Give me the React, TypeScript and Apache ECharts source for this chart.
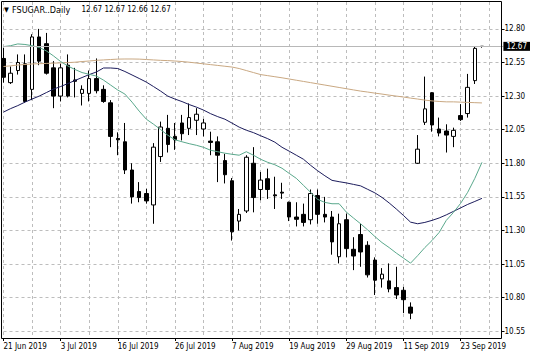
import { useEffect, useRef } from "react";
import * as echarts from "echarts";

const symbolName = "FSUGAR..Daily";

const dates = [
  "21 Jun 2019", "24 Jun 2019", "25 Jun 2019", "26 Jun 2019", "27 Jun 2019", "28 Jun 2019",
  "1 Jul 2019", "2 Jul 2019", "3 Jul 2019", "5 Jul 2019", "8 Jul 2019", "9 Jul 2019",
  "10 Jul 2019", "11 Jul 2019", "12 Jul 2019", "15 Jul 2019", "16 Jul 2019", "17 Jul 2019",
  "18 Jul 2019", "19 Jul 2019", "22 Jul 2019", "23 Jul 2019", "24 Jul 2019", "25 Jul 2019",
  "26 Jul 2019", "29 Jul 2019", "30 Jul 2019", "31 Jul 2019", "1 Aug 2019", "2 Aug 2019",
  "5 Aug 2019", "6 Aug 2019", "7 Aug 2019", "8 Aug 2019", "9 Aug 2019", "12 Aug 2019",
  "13 Aug 2019", "14 Aug 2019", "15 Aug 2019", "16 Aug 2019", "19 Aug 2019", "20 Aug 2019",
  "21 Aug 2019", "22 Aug 2019", "23 Aug 2019", "26 Aug 2019", "27 Aug 2019", "28 Aug 2019",
  "29 Aug 2019", "30 Aug 2019", "3 Sep 2019", "4 Sep 2019", "5 Sep 2019", "6 Sep 2019",
  "9 Sep 2019", "10 Sep 2019", "11 Sep 2019", "12 Sep 2019", "13 Sep 2019", "16 Sep 2019",
  "17 Sep 2019", "18 Sep 2019", "19 Sep 2019", "20 Sep 2019", "23 Sep 2019", "24 Sep 2019",
  "25 Sep 2019", "26 Sep 2019",
];
// empty future slots on the right side of the chart (chart shift)
const futureSlots = ["27 Sep 2019", "30 Sep 2019", "1 Oct 2019"];

const opens = [
  12.58, 12.40, 12.49, 12.54, 12.35, 12.74, 12.69, 12.51, 12.30, 12.53,
  12.42, 12.32, 12.32, 12.43, 12.35, 12.25, 11.985, 11.96, 11.75, 11.59,
  11.575, 11.49, 11.85, 12.06, 12.00, 12.10, 12.06, 12.12, 12.055, 11.965,
  11.96, 11.82, 11.67, 11.37, 11.445, 11.80, 11.605, 11.685, 11.565, 11.585,
  11.51, 11.40, 11.42, 11.38, 11.56, 11.42, 11.40, 11.105, 11.38, 11.16,
  11.27, 11.19, 11.08, 10.94, 10.925, 10.875, 10.855, 10.73, 11.80, 12.105,
  12.325, 12.055, 12.04, 12.00, 12.155, 12.17, 12.415, 12.67,
];
const highs = [
  12.66, 12.52, 12.61, 12.61, 12.76, 12.80, 12.77, 12.56, 12.54, 12.61,
  12.51, 12.38, 12.49, 12.58, 12.38, 12.27, 12.03, 12.10, 11.80, 11.66,
  11.61, 11.95, 12.11, 12.16, 12.10, 12.16, 12.245, 12.21, 12.13, 12.035,
  12.00, 11.87, 11.69, 11.46, 11.86, 11.92, 11.735, 11.76, 11.70, 11.655,
  11.515, 11.51, 11.50, 11.605, 11.605, 11.55, 11.445, 11.425, 11.425, 11.25,
  11.35, 11.22, 11.10, 11.02, 11.055, 11.03, 10.88, 10.765, 12.01, 12.445,
  12.33, 12.14, 12.09, 12.065, 12.24, 12.465, 12.67, 12.67,
];
const lows = [
  12.40, 12.39, 12.46, 12.25, 12.27, 12.53, 12.46, 12.21, 12.26, 12.29,
  12.29, 12.23, 12.26, 12.32, 12.25, 11.92, 11.86, 11.72, 11.50, 11.51,
  11.50, 11.35, 11.81, 11.88, 11.90, 11.97, 12.01, 12.01, 12.00, 11.86,
  11.66, 11.65, 11.225, 11.30, 11.43, 11.435, 11.525, 11.535, 11.46, 11.535,
  11.37, 11.33, 11.33, 11.345, 11.35, 11.36, 11.12, 11.055, 11.10, 11.005,
  11.03, 10.95, 10.82, 10.875, 10.84, 10.79, 10.685, 10.64, 11.795, 12.085,
  12.035, 12.00, 11.88, 11.92, 12.115, 12.14, 12.39, 12.66,
];
const closes = [
  12.44, 12.47, 12.55, 12.26, 12.74, 12.56, 12.47, 12.30, 12.51, 12.30,
  12.41, 12.35, 12.43, 12.34, 12.26, 12.00, 11.975, 11.75, 11.55, 11.545,
  11.52, 11.92, 12.07, 11.94, 11.975, 12.02, 12.14, 12.165, 12.10, 11.955,
  11.86, 11.715, 11.29, 11.42, 11.845, 11.545, 11.675, 11.605, 11.558, 11.578,
  11.40, 11.383, 11.36, 11.575, 11.42, 11.40, 11.215, 11.35, 11.165, 11.11,
  11.14, 10.97, 10.93, 10.975, 10.865, 10.82, 10.785, 10.685, 11.905, 12.205,
  12.085, 12.025, 12.01, 12.045, 12.125, 12.365, 12.655, 12.67,
];

// moving averages
const maFast = [
  12.668, 12.675, 12.688, 12.684, 12.675, 12.662, 12.636, 12.599, 12.557, 12.524,
  12.498, 12.475, 12.462, 12.449, 12.419, 12.382, 12.345, 12.315, 12.255, 12.188,
  12.128, 12.091, 12.051, 12.009, 11.975, 11.96, 11.946, 11.934, 11.919, 11.897,
  11.886, 11.875, 11.867, 11.86, 11.886, 11.86, 11.83, 11.807, 11.789, 11.763,
  11.725, 11.688, 11.636, 11.584, 11.531, 11.509, 11.499, 11.499, 11.437, 11.393,
  11.35, 11.304, 11.255, 11.21, 11.173, 11.132, 11.095, 11.057, 11.113, 11.173,
  11.225, 11.285, 11.375, 11.434, 11.501, 11.584, 11.688, 11.807,
];
const maMid = [
  12.181, 12.207, 12.229, 12.255, 12.278, 12.30, 12.326, 12.352, 12.371, 12.393,
  12.416, 12.438, 12.46, 12.479, 12.509, 12.509, 12.505, 12.483, 12.457, 12.431,
  12.404, 12.371, 12.337, 12.30, 12.278, 12.259, 12.237, 12.218, 12.196, 12.169,
  12.147, 12.128, 12.099, 12.069, 12.046, 12.028, 12.005, 11.983, 11.957, 11.919,
  11.89, 11.86, 11.83, 11.785, 11.744, 11.707, 11.673, 11.663, 11.654, 11.643,
  11.632, 11.606, 11.58, 11.546, 11.505, 11.46, 11.412, 11.362, 11.35, 11.36,
  11.375, 11.393, 11.416, 11.442, 11.468, 11.494, 11.516, 11.539,
];
const maSlow = [
  12.520, 12.525, 12.531, 12.535, 12.539, 12.541, 12.543, 12.545, 12.547, 12.549,
  12.552, 12.557, 12.561, 12.566, 12.569, 12.572, 12.575, 12.576, 12.576, 12.575,
  12.572, 12.569, 12.566, 12.564, 12.561, 12.557, 12.552, 12.546, 12.540, 12.534,
  12.528, 12.522, 12.516, 12.505, 12.49, 12.475, 12.46, 12.452, 12.444, 12.436,
  12.427, 12.418, 12.409, 12.40, 12.391, 12.382, 12.373, 12.364, 12.355, 12.346,
  12.337, 12.33, 12.322, 12.315, 12.307, 12.30, 12.293, 12.285, 12.278, 12.27,
  12.264, 12.26, 12.257, 12.257, 12.255, 12.253, 12.251, 12.249,
];

const yTickValues = [10.55, 10.8, 11.05, 11.3, 11.55, 11.8, 12.05, 12.3, 12.55, 12.8];
const yMin = 10.5;
const yMax = 13.0;

const FONT = "'DejaVu Sans Condensed', 'DejaVu Sans', sans-serif";

export default function App() {
  const ref = useRef<HTMLDivElement>(null);

  useEffect(() => {
    if (!ref.current) return;
    const chart = echarts.init(ref.current, null, { renderer: "svg" });
    const cats = [...dates, ...futureSlots];
    const last = dates.length - 1;
    const lastClose = closes[last];
    const header = [opens[last], highs[last], lows[last], closes[last]]
      .map((v) => v.toFixed(2))
      .join(" ");

    const option: any = {
      animation: false,
      backgroundColor: "#ffffff",
      grid: { left: 3.5, right: 32.6, top: 2, bottom: 19, containLabel: false },
      xAxis: {
        type: "category",
        data: cats,
        boundaryGap: false,
        axisLine: { show: false },
        axisTick: { show: true, interval: 7, length: 3, lineStyle: { color: "#000" } },
        axisLabel: {
          interval: 7,
          align: "left",
          margin: 4,
          fontSize: 8,
          color: "#000",
          fontFamily: FONT,
        },
        splitLine: {
          show: true,
          interval: 3,
          lineStyle: { color: "#bdbdbd", width: 1, type: [3, 3] },
        },
      },
      yAxis: {
        type: "value",
        position: "right",
        min: yMin,
        max: yMax,
        offset: -1.9,
        axisLine: { show: false },
        axisTick: {
          show: true,
          length: 3,
          customValues: yTickValues,
          lineStyle: { color: "#000" },
        },
        axisLabel: {
          customValues: yTickValues,
          formatter: (v: number) => v.toFixed(2),
          margin: 3,
          fontSize: 8,
          color: "#000",
          fontFamily: FONT,
        },
        splitLine: {
          show: true,
          lineStyle: { color: "#bdbdbd", width: 1, type: [3, 3] },
        },
      },
      series: [
        {
          type: "candlestick",
          data: dates.map((_, i) => [opens[i], closes[i], lows[i], highs[i]]),
          barWidth: 4,
          itemStyle: {
            color: "#ffffff",
            color0: "#000000",
            borderColor: "#000000",
            borderColor0: "#000000",
            borderWidth: 1,
          },
          markLine: {
            silent: true,
            symbol: ["none", "none"],
            data: [{ yAxis: lastClose }],
            lineStyle: { color: "#b8b8b8", width: 1, type: "solid" },
            label: {
              show: true,
              position: "end",
              distance: 0,
              formatter: lastClose.toFixed(2),
              backgroundColor: "#000",
              color: "#fff",
              padding: [1, 3, 0, 3],
              fontSize: 8,
              fontFamily: FONT,
            },
          },
          z: 2,
        },
        {
          type: "line",
          data: maSlow,
          symbol: "none",
          lineStyle: { color: "#c9a882", width: 1 },
          z: 3,
        },
        {
          type: "line",
          data: maMid,
          symbol: "none",
          lineStyle: { color: "#1c1c5c", width: 1 },
          z: 3,
        },
        {
          type: "line",
          data: maFast,
          symbol: "none",
          lineStyle: { color: "#5aa88c", width: 1 },
          z: 3,
        },
      ],
      graphic: [
        {
          type: "rect",
          silent: true,
          z: 50,
          shape: { x: 1.5, y: 1.5, width: 500, height: 337 },
          style: { fill: "none", stroke: "#000", lineWidth: 1 },
        },
        {
          type: "text",
          z: 60,
          x: 4,
          y: 9.5,
          style: { text: "▼", fontSize: 7, fill: "#000", verticalAlign: "middle", fontFamily: FONT },
        },
        {
          type: "text",
          z: 60,
          x: 12,
          y: 9.5,
          style: { text: symbolName, fontSize: 9, fill: "#000", verticalAlign: "middle", fontFamily: FONT },
        },
        {
          type: "text",
          z: 60,
          x: 81.5,
          y: 9.5,
          style: { text: header, fontSize: 8, fill: "#000", verticalAlign: "middle", fontFamily: FONT },
        },
      ],
    };

    chart.setOption(option);
    return () => chart.dispose();
  }, []);

  return (
    <div
      ref={ref}
      style={{ position: "absolute", left: 0, top: 0, width: 536, height: 357 }}
    />
  );
}
